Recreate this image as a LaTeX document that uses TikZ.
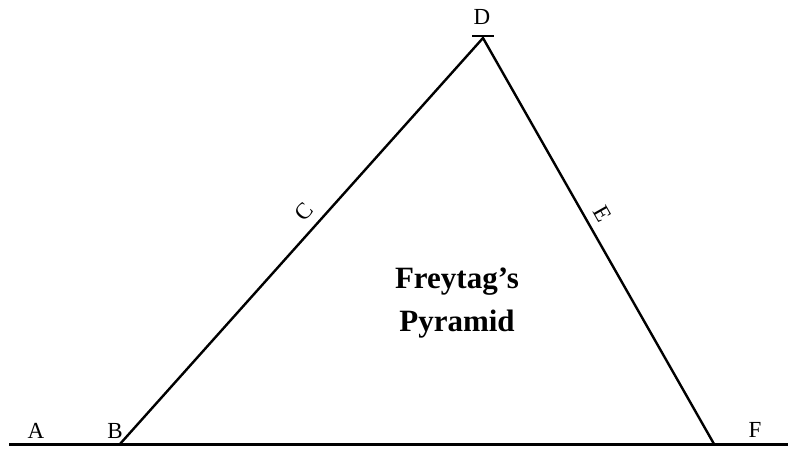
\documentclass[tikz,border=0pt]{standalone}
\usepackage{fontspec}
\setmainfont{Liberation Serif}
\begin{document}
\begin{tikzpicture}[x=1pt,y=-1pt,
  lbl/.style={font=\fontsize{23}{25}\selectfont, inner sep=0pt},
  ttl/.style={font=\bfseries\fontsize{31}{36}\selectfont, inner sep=0pt, anchor=base},
  side/.style={line width=2.4pt, line cap=round},
  base/.style={line width=3.2pt}]
\useasboundingbox (0,0) rectangle (788,449);
\coordinate (L) at (9,444.5);
\coordinate (R) at (788,444.5);
\coordinate (B) at (120,444);
\coordinate (D) at (483,38);
\coordinate (F) at (714,444);
\coordinate (T1) at (472,36);
\coordinate (T2) at (494,36);
\draw[base] (L) -- (R);
\draw[side] (B) -- (D) -- (F);
\draw[line width=2.6pt] (T1) -- (T2);
\node[lbl, anchor=base] (a) at (36,438) {A};
\node[lbl, anchor=base] (b) at (115,438) {B};
\node[lbl, rotate=48.2] (c) at (304,212) {C};
\node[lbl, anchor=base] (d) at (482,25) {D};
\node[lbl, rotate=-60.4] (e) at (603,214) {E};
\node[lbl, anchor=base] (f) at (755,437) {F};
\node[ttl] (t1) at (457,289) {Freytag’s};
\node[ttl] (t2) at (457,332) {Pyramid};
\end{tikzpicture}
\end{document}
